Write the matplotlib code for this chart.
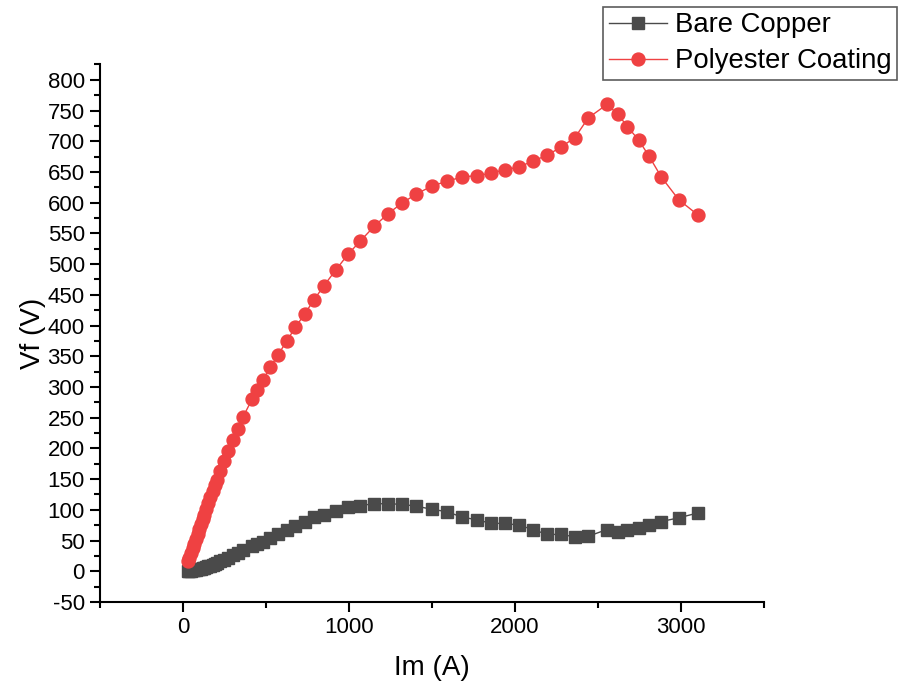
import matplotlib
matplotlib.use("Agg")
import matplotlib.pyplot as plt
from matplotlib.ticker import MultipleLocator

plt.rcParams['font.family'] = ['Liberation Sans', 'DejaVu Sans']
plt.rcParams['axes.unicode_minus'] = False

# Data
im_a = [30, 38, 48, 58, 68, 78, 88, 98, 108, 118, 128, 140, 152, 165, 178, 190,
        203, 223, 247, 273, 301, 331, 361, 416, 446, 482, 526, 572, 625, 677,
        733, 787, 849, 922, 994, 1066, 1153, 1235, 1317, 1405, 1498, 1590, 1683,
        1769, 1855, 1940, 2024, 2108, 2193, 2279, 2361, 2441, 2554, 2620, 2677,
        2745, 2807, 2881, 2986, 3102]

bare_copper = [0, 0.5, 1, 1.5, 2, 2.5, 3, 3.5, 4.5, 5, 6, 7, 8, 9, 10.5, 12,
               13.5, 16, 19, 22, 26, 30, 34, 41, 44, 48, 54, 61, 67, 74,
               80, 88, 92, 98, 104, 107, 110, 110, 109, 106, 101, 97, 88,
               84, 78, 78, 75, 68, 60, 60, 56, 57, 68, 64, 67,
               71, 75, 81, 87, 95]

polyester = [17, 22, 30, 38, 45, 53, 61, 69, 77, 85, 92, 102, 111, 121, 131, 140,
             149, 164, 180, 196, 214, 232, 251, 280, 295, 312, 332, 352, 375, 397,
             419, 441, 465, 491, 516, 537, 562, 582, 599, 614, 627, 635, 642,
             644, 648, 654, 658, 668, 677, 691, 706, 738, 760, 744, 724,
             702, 676, 642, 605, 580]

labels = ["Bare Copper", "Polyester Coating"]
xlabel = "Im (A)"
ylabel = "Vf (V)"

W, H = 899, 686
fig = plt.figure(figsize=(W / 100, H / 100), dpi=100)
ax = fig.add_axes([100 / W, (H - 602) / H, 664 / W, (602 - 64.5) / H])

black = '#4a4a4a'
red = '#ef4142'
ax.plot(im_a, bare_copper, '-', color=black, lw=1.0, marker='s', ms=8.5,
        mec=black, mfc=black, label=labels[0])
ax.plot(im_a, polyester, '-', color=red, lw=1.0, marker='o', ms=9.3,
        mec=red, mfc=red, label=labels[1])

ax.set_xlim(-500, 3500)
ax.set_ylim(-50, 825)
ax.xaxis.set_major_locator(MultipleLocator(1000))
ax.xaxis.set_minor_locator(MultipleLocator(500))
ax.yaxis.set_major_locator(MultipleLocator(50))
ax.yaxis.set_minor_locator(MultipleLocator(25))

for s in ['top', 'right']:
    ax.spines[s].set_visible(False)
for s in ['left', 'bottom']:
    ax.spines[s].set_linewidth(1.5)
    ax.spines[s].set_color('black')

ax.tick_params(axis='both', which='major', direction='out', length=7, width=1.5,
               labelsize=16, colors='black', pad=4)
ax.tick_params(axis='both', which='minor', direction='out', length=4, width=1.5)

ax.set_xlabel(xlabel, fontsize=20, labelpad=12)
ax.set_ylabel(ylabel, fontsize=20, labelpad=1)

leg = fig.legend(loc='upper right', bbox_to_anchor=(897 / W, 1 - 7 / H),
                 fontsize=19.8, frameon=True, fancybox=False, edgecolor='#333333',
                 handlelength=2.1, handletextpad=0.3, labelspacing=0.35,
                 borderpad=0.2, borderaxespad=0)
leg.get_frame().set_linewidth(1.2)

fig.savefig('out.png', dpi=100)
